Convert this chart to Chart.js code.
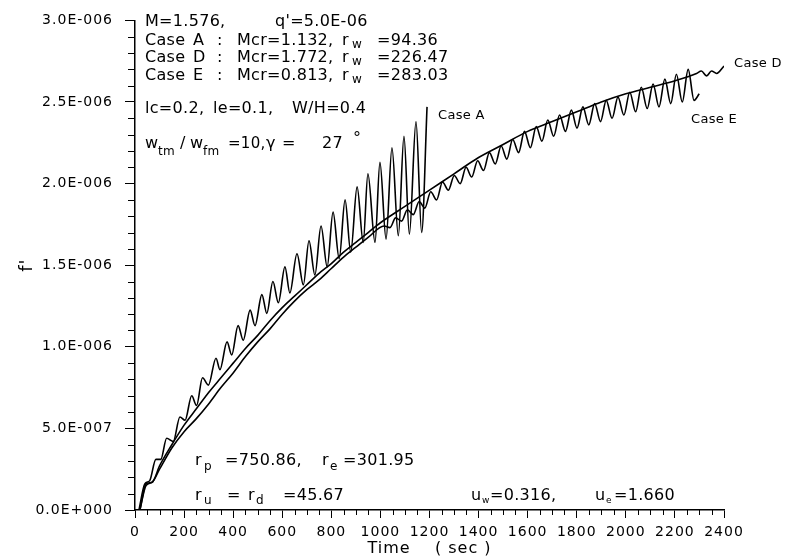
<!DOCTYPE html>
<html>
<head>
<meta charset="utf-8">
<script src="https://cdn.jsdelivr.net/npm/chart.js@4.4.0/dist/chart.umd.min.js"></script>
<style>
  body { margin: 0; background: #fff; }
</style>
</head>
<body>
<canvas id="chart_fprime" width="785" height="560"></canvas>
<script>
// f' values are in units of 1E-06, time in sec
const timeA = [16, 40, 60, 85, 105, 129, 156, 183, 204, 231, 251, 275, 299, 330, 346, 375, 394, 420, 441,
  469, 489, 517, 537, 562, 584, 611, 631, 660, 686, 709, 733, 758, 783, 807, 832, 856, 879, 905, 930,
  949, 978, 998, 1023, 1047, 1073, 1096, 1118, 1145, 1168, 1190];
const fA = [0, 0.16, 0.18, 0.31, 0.31, 0.44, 0.42, 0.57, 0.55, 0.70, 0.64, 0.81, 0.765, 0.93, 0.86, 1.03, 0.95, 1.13, 1.04,
  1.225, 1.13, 1.32, 1.205, 1.40, 1.27, 1.49, 1.33, 1.57, 1.38, 1.65, 1.44, 1.74, 1.49, 1.825, 1.54, 1.90, 1.58, 1.98, 1.64,
  2.06, 1.64, 2.13, 1.66, 2.22, 1.68, 2.29, 1.69, 2.38, 1.70, 2.47];

const timeD = [20, 45, 70, 100, 150, 200, 250, 300, 350, 400, 450, 500, 550, 600, 650, 700, 750, 800, 850, 900,
  950, 1000, 1100, 1200, 1300, 1400, 1500, 1600, 1700, 1800, 1900, 2000, 2100, 2200, 2288, 2308, 2329, 2349, 2370, 2400];
const fD = [0, 0.16, 0.17, 0.27, 0.40, 0.52, 0.62, 0.72, 0.81, 0.90, 0.99, 1.07, 1.16, 1.24, 1.31, 1.38, 1.45, 1.51, 1.58, 1.64,
  1.70, 1.76, 1.86, 1.96, 2.06, 2.16, 2.24, 2.32, 2.38, 2.44, 2.50, 2.55, 2.59, 2.63, 2.675, 2.69, 2.66, 2.69, 2.675, 2.72];

const timeE = [20, 45, 70, 100, 150, 200, 250, 300, 350, 400, 450, 500, 550, 600, 650, 700, 750, 800, 850, 900, 950,
  1015, 1039, 1062, 1086, 1110, 1134, 1158, 1181, 1205, 1229, 1253, 1277, 1301, 1325, 1349, 1372, 1396, 1420, 1444,
  1468, 1492, 1515, 1539, 1563, 1587, 1611, 1635, 1658, 1682, 1706, 1730, 1754, 1778, 1801, 1825, 1849, 1873, 1897,
  1920, 1944, 1968, 1992, 2016, 2040, 2063, 2087, 2111, 2135, 2159, 2183, 2206, 2230, 2254, 2278, 2299];
const fE = [0, 0.15, 0.17, 0.25, 0.38, 0.48, 0.56, 0.65, 0.75, 0.84, 0.94, 1.03, 1.11, 1.20, 1.28, 1.35, 1.41, 1.48, 1.55, 1.61, 1.67,
  1.74, 1.73, 1.79, 1.77, 1.84, 1.81, 1.89, 1.85, 1.95, 1.90, 2.01, 1.96, 2.05, 2.00, 2.10, 2.04, 2.14, 2.08, 2.19,
  2.12, 2.23, 2.15, 2.27, 2.19, 2.32, 2.22, 2.35, 2.26, 2.39, 2.29, 2.42, 2.32, 2.45, 2.34, 2.47, 2.36, 2.49, 2.38,
  2.51, 2.40, 2.53, 2.42, 2.56, 2.44, 2.59, 2.46, 2.61, 2.47, 2.64, 2.49, 2.67, 2.50, 2.70, 2.51, 2.55];

const FONT = '"DejaVu Sans", "Liberation Sans", sans-serif';

function toPoints(ts, fs) {
  return ts.map((t, i) => ({ x: t, y: fs[i] }));
}

function sciLabel(v) {
  const val = v * 1e-6;
  if (Math.abs(val) < 1e-15) return '0.0E+000';
  const e = Math.floor(Math.log10(val) + 1e-9);
  const m = val / Math.pow(10, e);
  return m.toFixed(1) + 'E' + (e < 0 ? '-' : '+') + String(Math.abs(e)).padStart(3, '0');
}

// [text, x, y, size]
const notes = [
  ['M=1.576,', 145, 26], ["q'=5.0E-06", 275, 26],
  ['Case', 145, 45], ['A', 193, 45], [':', 217, 45], ['Mcr=1.132,', 237, 45], ['r', 342, 45], ['w', 352, 48, 12], ['=94.36', 377, 45],
  ['Case', 145, 62], ['D', 193, 62], [':', 217, 62], ['Mcr=1.772,', 237, 62], ['r', 342, 62], ['w', 352, 65, 12], ['=226.47', 377, 62],
  ['Case', 145, 80], ['E', 193, 80], [':', 217, 80], ['Mcr=0.813,', 237, 80], ['r', 342, 80], ['w', 352, 83, 12], ['=283.03', 377, 80],
  ['lc=0.2,', 145, 113], ['le=0.1,', 213, 113], ['W/H=0.4', 292, 113],
  ['w', 145, 148], ['tm', 158, 155, 12], ['/', 180, 148], ['w', 190, 148], ['fm', 203, 155, 12], ['=10,', 228, 148, 15],
  ['\u03b3', 266, 148], ['=', 282, 148], ['27', 322, 148], ['\u00b0', 353, 143],
  ['r', 195, 465], ['p', 204, 470, 12], ['=750.86,', 225, 465], ['r', 322, 465], ['e', 330, 470, 12], ['=301.95', 343, 465],
  ['r', 195, 500], ['u', 204, 504, 12], ['=', 227, 500], ['r', 248, 500], ['d', 256, 504, 12], ['=45.67', 283, 500],
  ['u', 471, 500], ['w', 482, 503, 9], ['=0.316,', 490, 500], ['u', 595, 500], ['e', 606, 503, 9], ['=1.660', 614, 500],
  ['Case A', 438, 119, 13], ['Case D', 734, 67, 13], ['Case E', 691, 123, 13]
];

const extras = {
  id: 'extras',
  beforeDraw(chart) {
    chart.ctx.letterSpacing = '1px';
  },
  afterDraw(chart) {
    const { ctx, scales: { x, y } } = chart;
    ctx.save();
    ctx.strokeStyle = '#000';
    ctx.lineWidth = 1;
    ctx.beginPath();
    for (let v = 50; v < 2400; v += 50) {
      if (v % 200 === 0) continue;
      const px = Math.round(x.getPixelForValue(v)) + 0.5;
      ctx.moveTo(px, y.bottom);
      ctx.lineTo(px, y.bottom + 5);
    }
    for (let i = 1; i < 30; i++) {
      if (i % 5 === 0) continue;
      const py = Math.round(y.getPixelForValue(i / 10)) + 0.5;
      ctx.moveTo(x.left - 7, py);
      ctx.lineTo(x.left, py);
    }
    ctx.stroke();

    ctx.fillStyle = '#000';
    ctx.textAlign = 'left';
    ctx.textBaseline = 'alphabetic';
    ctx.letterSpacing = '0.3px';
    notes.forEach(([t, tx, ty, size]) => {
      ctx.font = (size || 16) + 'px ' + FONT;
      ctx.fillText(t, tx, ty);
    });
    ctx.restore();
  }
};

const lineStyle = {
  borderColor: '#000',
  borderWidth: 1.6,
  pointRadius: 0,
  fill: false,
  cubicInterpolationMode: 'monotone'
};

new Chart(
  document.getElementById('chart_fprime'),
  {
    type: 'line',
    data: {
      datasets: [
        { label: 'Case A', data: toPoints(timeA, fA), ...lineStyle },
        { label: 'Case D', data: toPoints(timeD, fD), ...lineStyle },
        { label: 'Case E', data: toPoints(timeE, fE), ...lineStyle }
      ]
    },
    options: {
      responsive: false,
      animation: false,
      layout: { padding: { top: 20, right: 61, left: 0, bottom: 0 } },
      plugins: { legend: { display: false }, tooltip: { enabled: false } },
      scales: {
        x: {
          type: 'linear',
          min: 0,
          max: 2400,
          afterFit: s => { s.height = 50; },
          ticks: { stepSize: 200, color: '#000', font: { family: FONT, size: 14 }, padding: 6, maxRotation: 0, callback: v => String(v) },
          grid: { drawOnChartArea: false, tickLength: 8, color: '#000' },
          border: { color: '#000', width: 1.5 },
          title: { display: true, text: 'Time    ( sec )', color: '#000', font: { family: FONT, size: 16 }, padding: { bottom: 2 } }
        },
        y: {
          min: 0,
          max: 3,
          afterFit: s => { s.width = 135; },
          ticks: { stepSize: 0.5, color: '#000', font: { family: FONT, size: 14 }, padding: 12, callback: v => sciLabel(v) },
          grid: { drawOnChartArea: false, tickLength: 10, color: '#000' },
          border: { color: '#000', width: 1.5 },
          title: { display: true, text: "f'", color: '#000', font: { family: FONT, size: 18 }, padding: { top: 17 } }
        }
      }
    },
    plugins: [extras]
  }
);
</script>
</body>
</html>
